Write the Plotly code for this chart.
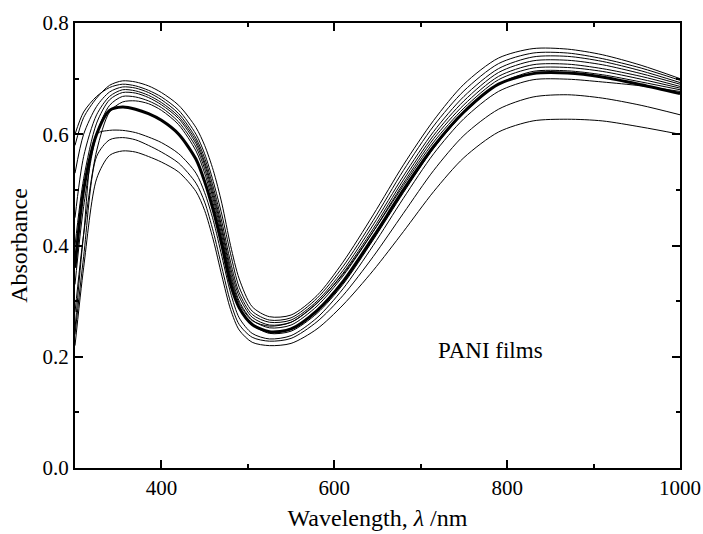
import plotly.graph_objects as go

wavelength = [300, 310, 325, 340, 355, 370, 385, 400, 420, 440, 450, 460, 470, 480, 490,
              505, 525, 550, 580, 610, 645, 680, 715, 750, 790, 830, 870, 910, 955, 1000]

film_a = [0.58, 0.63, 0.665, 0.688, 0.696, 0.694, 0.687, 0.675, 0.652, 0.612, 0.58, 0.535, 0.475, 0.40, 0.34,
          0.29, 0.272, 0.275, 0.31, 0.37, 0.455, 0.545, 0.625, 0.69, 0.737, 0.754, 0.753, 0.743, 0.724, 0.700]
film_b = [0.60, 0.64, 0.668, 0.684, 0.690, 0.687, 0.679, 0.667, 0.643, 0.600, 0.565, 0.515, 0.455, 0.385, 0.325,
          0.282, 0.266, 0.270, 0.305, 0.362, 0.445, 0.535, 0.615, 0.678, 0.727, 0.746, 0.746, 0.736, 0.719, 0.697]
film_c = [0.53, 0.60, 0.65, 0.676, 0.685, 0.683, 0.675, 0.662, 0.637, 0.593, 0.557, 0.505, 0.442, 0.37, 0.315,
          0.276, 0.262, 0.266, 0.300, 0.355, 0.437, 0.525, 0.605, 0.668, 0.718, 0.739, 0.740, 0.731, 0.714, 0.693]
film_d = [0.45, 0.56, 0.635, 0.668, 0.680, 0.678, 0.670, 0.657, 0.632, 0.588, 0.550, 0.497, 0.432, 0.36, 0.308,
          0.271, 0.257, 0.262, 0.296, 0.35, 0.43, 0.518, 0.598, 0.660, 0.711, 0.732, 0.733, 0.725, 0.709, 0.690]
film_e = [0.40, 0.52, 0.62, 0.662, 0.675, 0.674, 0.666, 0.653, 0.628, 0.583, 0.545, 0.490, 0.425, 0.352, 0.300,
          0.266, 0.252, 0.257, 0.291, 0.345, 0.425, 0.512, 0.592, 0.653, 0.704, 0.725, 0.726, 0.718, 0.704, 0.686]
film_f = [0.33, 0.47, 0.60, 0.652, 0.668, 0.667, 0.66, 0.648, 0.622, 0.577, 0.538, 0.483, 0.417, 0.345, 0.296,
          0.265, 0.255, 0.262, 0.297, 0.348, 0.425, 0.508, 0.586, 0.647, 0.698, 0.719, 0.720, 0.713, 0.699, 0.683]
film_g = [0.28, 0.42, 0.57, 0.64, 0.658, 0.66, 0.655, 0.643, 0.617, 0.570, 0.530, 0.475, 0.41, 0.34, 0.29,
          0.258, 0.242, 0.246, 0.278, 0.33, 0.41, 0.495, 0.575, 0.638, 0.690, 0.713, 0.714, 0.707, 0.694, 0.680]
film_h = [0.25, 0.42, 0.60, 0.607, 0.607, 0.603, 0.595, 0.585, 0.565, 0.530, 0.495, 0.445, 0.38, 0.315, 0.27,
          0.242, 0.232, 0.238, 0.27, 0.322, 0.40, 0.485, 0.565, 0.628, 0.677, 0.698, 0.699, 0.694, 0.687, 0.677]
film_i = [0.24, 0.38, 0.56, 0.59, 0.594, 0.59, 0.58, 0.568, 0.548, 0.512, 0.478, 0.425, 0.36, 0.298, 0.258,
          0.235, 0.228, 0.233, 0.263, 0.31, 0.38, 0.458, 0.535, 0.598, 0.645, 0.667, 0.671, 0.665, 0.652, 0.635]
film_j = [0.22, 0.36, 0.52, 0.562, 0.570, 0.568, 0.56, 0.55, 0.532, 0.497, 0.463, 0.41, 0.345, 0.285, 0.248,
          0.226, 0.220, 0.224, 0.25, 0.293, 0.355, 0.425, 0.497, 0.558, 0.604, 0.624, 0.627, 0.624, 0.613, 0.600]
film_mean = [0.36, 0.50, 0.60, 0.643, 0.649, 0.645, 0.637, 0.625, 0.600, 0.555, 0.515, 0.463, 0.400, 0.330, 0.288,
             0.258, 0.245, 0.250, 0.283, 0.335, 0.415, 0.500, 0.578, 0.640, 0.690, 0.709, 0.710, 0.703, 0.689, 0.673]

thin_films = [film_a, film_b, film_c, film_d, film_e, film_f, film_g, film_h, film_i, film_j]

x_ticks = [400, 600, 800, 1000]
y_ticks = [0.0, 0.2, 0.4, 0.6, 0.8]

FONT = "Liberation Serif, Times New Roman, serif"

fig = go.Figure()
for ys in thin_films:
    fig.add_trace(go.Scatter(x=wavelength, y=ys, mode="lines",
                             line=dict(color="black", width=1, shape="spline", smoothing=0.8),
                             showlegend=False, hoverinfo="skip"))
fig.add_trace(go.Scatter(x=wavelength, y=film_mean, mode="lines",
                         line=dict(color="black", width=3, shape="spline", smoothing=0.8),
                         showlegend=False))

fig.add_annotation(x=781, y=0.212, text="PANI films", showarrow=False,
                   font=dict(family=FONT, size=23, color="black"))

axis_common = dict(showline=True, linecolor="black", linewidth=2, mirror="ticks",
                   ticks="inside", ticklen=8, tickwidth=1.5, tickcolor="black",
                   showgrid=False, zeroline=False,
                   tickfont=dict(family=FONT, size=21, color="black"))

fig.update_xaxes(range=[300, 1000], tickvals=x_ticks, ticktext=[str(v) for v in x_ticks],
                 minor=dict(ticks="inside", ticklen=4, tickwidth=1.5, tickcolor="black", dtick=100, tick0=0),
                 title=dict(text="Wavelength, <i>λ</i> /nm", font=dict(family=FONT, size=24, color="black"),
                            standoff=10),
                 **axis_common)
fig.update_yaxes(range=[0, 0.8], tickvals=y_ticks, ticktext=[f"{v:.1f}" for v in y_ticks],
                 minor=dict(ticks="inside", ticklen=4, tickwidth=1.5, tickcolor="black", dtick=0.1, tick0=0),
                 title=dict(text="Absorbance", font=dict(family=FONT, size=24, color="black"), standoff=8),
                 **axis_common)

fig.update_layout(width=703, height=534, margin=dict(l=75, r=23, t=23, b=66, autoexpand=False),
                  paper_bgcolor="white", plot_bgcolor="white",
                  font=dict(family=FONT, color="black"))

fig.write_html("out.html", config={"displayModeBar": False},
               post_script="document.body.style.margin='0';document.body.style.overflow='hidden';")
